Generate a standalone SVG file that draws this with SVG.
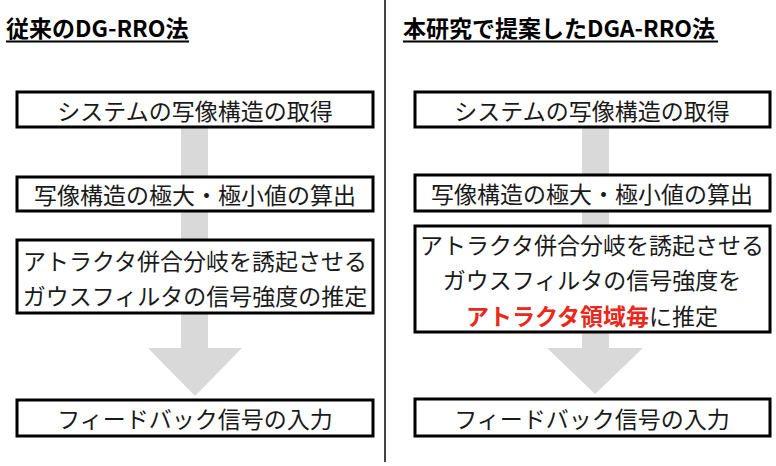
<svg xmlns="http://www.w3.org/2000/svg" width="776" height="466" viewBox="0 0 776 466">
<style>
.bx{fill:#fff;stroke:#000;stroke-width:3}
.t{font-family:"Noto Sans CJK JP","Noto Sans",sans-serif;font-size:23px;fill:#1a1a1a;text-anchor:middle;dominant-baseline:central}
.h{font-family:"Noto Sans CJK JP","Noto Sans",sans-serif;font-size:23px;font-weight:bold;fill:#000}
.ar{fill:#d9d9d9}
.red{fill:#e8291c;font-weight:bold}
</style>
<rect width="776" height="466" fill="#fff"/>
<line x1="385" y1="0" x2="385" y2="462" stroke="#444" stroke-width="2"/>
<g id="title-left">
<text class="h" x="6" y="37">従来のDG-RRO法</text>
<rect x="6" y="40.5" width="183" height="2" fill="#000"/>
</g>
<g id="title-right">
<text class="h" x="403" y="37">本研究で提案したDGA-RRO法</text>
<rect x="403" y="40.5" width="315" height="2" fill="#000"/>
</g>
<g id="connectors">
<path class="ar" d="M181,127 H208 V348 H242 L195,396 L148,348 H181 Z"/>
<path class="ar" d="M582,127 H609 V348 H643 L595,394 L547,348 H582 Z"/>
</g>
<g id="L1"><rect class="bx" x="17" y="92" width="356" height="35"/><text class="t" x="195" y="110">システムの写像構造の取得</text></g>
<g id="L2"><rect class="bx" x="17" y="177" width="356" height="34"/><text class="t" x="195" y="194">写像構造の極大・極小値の算出</text></g>
<g id="L3"><rect class="bx" x="17" y="240" width="356" height="73"/><text class="t" x="195" y="260">アトラクタ併合分岐を誘起させる</text><text class="t" x="195" y="295">ガウスフィルタの信号強度の推定</text></g>
<g id="L4"><rect class="bx" x="17" y="400" width="356" height="36"/><text class="t" x="195" y="418">フィードバック信号の入力</text></g>
<g id="R1"><rect class="bx" x="415" y="92" width="355" height="35"/><text class="t" x="592" y="110">システムの写像構造の取得</text></g>
<g id="R2"><rect class="bx" x="415" y="175" width="355" height="36"/><text class="t" x="592" y="193">写像構造の極大・極小値の算出</text></g>
<g id="R3"><rect class="bx" x="415" y="226" width="355" height="106"/><text class="t" x="592" y="244">アトラクタ併合分岐を誘起させる</text><text class="t" x="592" y="279">ガウスフィルタの信号強度を</text><text class="t" x="592" y="315"><tspan class="red">アトラクタ領域毎</tspan>に推定</text></g>
<g id="R4"><rect class="bx" x="415" y="399" width="355" height="37"/><text class="t" x="592" y="418">フィードバック信号の入力</text></g>
</svg>
